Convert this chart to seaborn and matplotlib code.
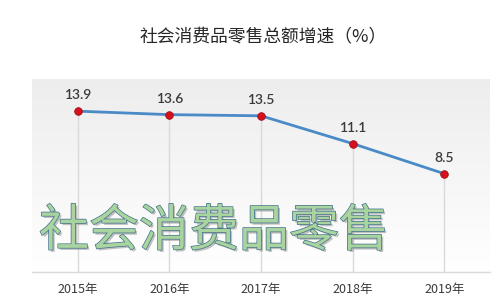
import numpy as np
import pandas as pd
import matplotlib
matplotlib.use("Agg")
import matplotlib.pyplot as plt
import matplotlib.patheffects as pe
from matplotlib.colors import LinearSegmentedColormap
import seaborn as sns

title = "社会消费品零售总额增速（%）"
years = ["2015年", "2016年", "2017年", "2018年", "2019年"]
growth = [13.9, 13.6, 13.5, 11.1, 8.5]
watermark = "社会消费品零售"

sns.set_style("white")
plt.rcParams["font.family"] = ["Noto Sans CJK SC", "DejaVu Sans"]

df = pd.DataFrame({"year": years, "growth": growth})

fig = plt.figure(figsize=(5.0, 3.05), dpi=100)
ax = fig.add_axes([0.064, 0.108, 0.916, 0.633])

# gradient background
grad = np.linspace(0, 1, 256).reshape(-1, 1)
cmap = LinearSegmentedColormap.from_list("bg", ["#ffffff", "#ededed"])
ax.imshow(grad, aspect="auto", cmap=cmap, extent=[0, 1, 1, 0],
          transform=ax.transAxes, zorder=0)

xs = np.arange(len(years))
ax.vlines(xs, 0, df["growth"], color="#d9d9d9", lw=1.0, zorder=1)

sns.lineplot(data=df, x="year", y="growth", ax=ax, color="#4a8ac6",
             lw=2.0, sort=False, zorder=3)
sns.scatterplot(data=df, x="year", y="growth", ax=ax, color="#d8101e",
                edgecolor="#9a0f14", s=30, linewidth=0.6, zorder=4)

for i, v in enumerate(growth):
    ax.annotate(f"{v}", (i, v), xytext=(0, 7), textcoords="offset points",
                ha="center", va="bottom", fontsize=10, color="#3a3a3a",
                family=["Lato", "DejaVu Sans"], fontweight="semibold")

ax.set_xlim(-0.5, len(years) - 0.5)
ax.set_ylim(0, 16.68)
ax.set_yticks([])
ax.set_xlabel("")
ax.set_ylabel("")
ax.set_xticks(xs)
ax.set_xticklabels(years, fontsize=9, color="#3a3a3a")
ax.tick_params(axis="x", length=0, pad=8)
for s in ["top", "left", "right"]:
    ax.spines[s].set_visible(False)
ax.spines["bottom"].set_color("#d9d9d9")
ax.spines["bottom"].set_linewidth(1.0)

fig.text(0.526, 0.878, title, ha="center", va="center", fontsize=12.8,
         color="#262626")

fig.text(0.078, 0.24, watermark, ha="left", va="center", fontsize=36,
         color="#a9d4a0",
         path_effects=[pe.SimplePatchShadow(offset=(1.5, -1.5), shadow_rgbFace="#7a7a7a", alpha=0.45),
                       pe.Stroke(linewidth=1.0, foreground="#3e6f88"),
                       pe.Normal()], zorder=10)

fig.savefig("out.png", dpi=100)
